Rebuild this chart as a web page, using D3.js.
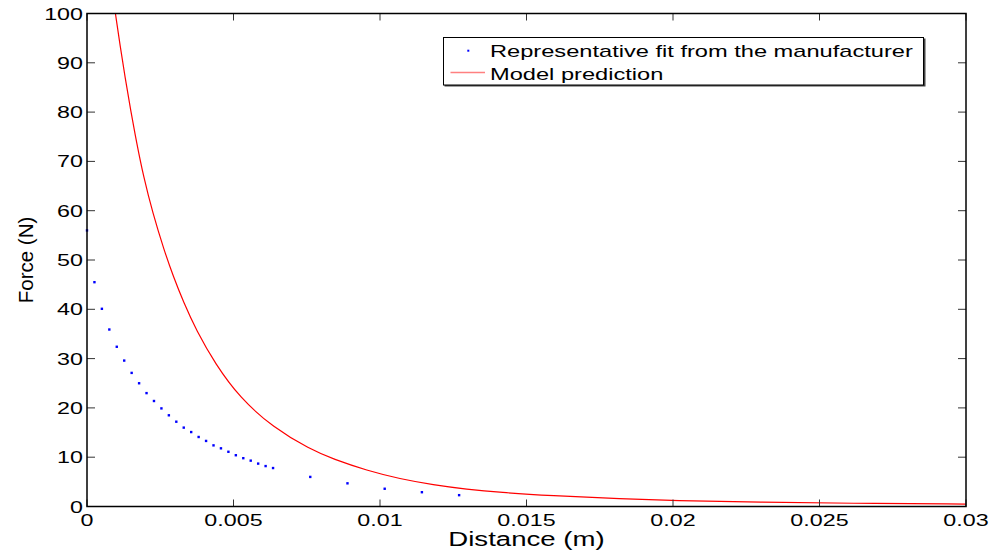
<!DOCTYPE html>
<html>
<head>
<meta charset="utf-8">
<script src="https://cdn.jsdelivr.net/npm/d3@7"></script>
<style>
  body { margin: 0; background: #fff; }
  text { font-family: "Liberation Sans", Arial, sans-serif; fill: #000; }
</style>
</head>
<body>
<div id="chart"></div>
<script>
// manufacturer fit (blue dots), distance in m, force in N
const fitDistance = [0, 0.000254, 0.000508, 0.000762, 0.001016, 0.00127, 0.001524, 0.001778, 0.002032, 0.002286,
  0.00254, 0.002794, 0.003048, 0.003302, 0.003556, 0.00381, 0.004064, 0.004318, 0.004572, 0.004826,
  0.00508, 0.005334, 0.005588, 0.005842, 0.006096, 0.00635, 0.00762, 0.00889, 0.01016, 0.01143, 0.0127];
const fitForce = [56.0, 45.5, 40.1, 35.9, 32.4, 29.6, 27.1, 25.0, 23.0, 21.4,
  19.9, 18.5, 17.2, 16.0, 15.1, 14.1, 13.3, 12.4, 11.8, 11.1,
  10.4, 9.8, 9.3, 8.7, 8.2, 7.8, 6.0, 4.7, 3.6, 2.9, 2.3];

// model prediction (red line)
const modelDistance = [0.00097, 0.00113, 0.0013, 0.00149, 0.0017, 0.00193, 0.00224, 0.00263, 0.00295, 0.00329,
  0.00374, 0.00437, 0.00522, 0.00636, 0.00761, 0.00841, 0.00955, 0.01068, 0.01182, 0.01296,
  0.0141, 0.0158, 0.0183, 0.02, 0.023, 0.026, 0.03];
const modelForce = [100, 93.5, 87.0, 80.4, 73.6, 66.9, 59.6, 52.0, 46.6, 41.5,
  35.6, 29.0, 22.0, 16.0, 11.6, 9.6, 7.3, 5.6, 4.4, 3.5,
  2.85, 2.2, 1.55, 1.2, 0.85, 0.65, 0.5];

const xTicks = [0, 0.005, 0.01, 0.015, 0.02, 0.025, 0.03];
const xTickLabels = ["0", "0.005", "0.01", "0.015", "0.02", "0.025", "0.03"];
const yTicks = [0, 10, 20, 30, 40, 50, 60, 70, 80, 90, 100];
const legendLabels = ["Representative fit from the manufacturer", "Model prediction"];

const W = 992, H = 551;
const margin = {top: 13.5, right: 26, bottom: 44.5, left: 87};
const width = W - margin.left - margin.right;
const height = H - margin.top - margin.bottom;

const svg = d3.select("#chart").append("svg")
  .attr("width", W)
  .attr("height", H);

const chart = svg.append("g")
  .attr("transform", `translate(${margin.left}, ${margin.top})`);

const x = d3.scaleLinear().domain([0, 0.03]).range([0, width]);
const y = d3.scaleLinear().domain([0, 100]).range([height, 0]);

// the picture's text is drawn wide, so stretch it sideways
function wideText(g, tx, ty, str, size, anchor, sx) {
  return g.append("text")
    .attr("transform", `translate(${tx}, ${ty}) scale(${sx || 1.37}, 1)`)
    .attr("text-anchor", anchor)
    .attr("font-size", size)
    .text(str);
}

svg.append("defs").append("clipPath").attr("id", "clip")
  .append("rect").attr("width", width).attr("height", height);

// red model line (basis curve smooths out reading noise)
const line = d3.line()
  .x((d, i) => x(modelDistance[i]))
  .y(d => y(d))
  .curve(d3.curveBasis);

chart.append("path")
  .datum(modelForce)
  .attr("clip-path", "url(#clip)")
  .attr("fill", "none")
  .attr("stroke", "#ff0000")
  .attr("stroke-width", 1.2)
  .attr("d", line);

// blue dots
chart.selectAll("rect.dot")
  .data(fitForce)
  .join("rect")
  .attr("class", "dot")
  .attr("x", (d, i) => x(fitDistance[i]) - 1.2)
  .attr("y", d => y(d) - 1.2)
  .attr("width", 2.4)
  .attr("height", 2.4)
  .attr("fill", "#0000ff");

// ticks on all four sides, pointing in
const tickColor = "#333";
xTicks.forEach(t => {
  chart.append("line").attr("x1", x(t)).attr("x2", x(t)).attr("y1", height).attr("y2", height - 7)
    .attr("stroke", tickColor);
  chart.append("line").attr("x1", x(t)).attr("x2", x(t)).attr("y1", 0).attr("y2", 7)
    .attr("stroke", tickColor);
});
yTicks.forEach(t => {
  chart.append("line").attr("x1", 0).attr("x2", 8).attr("y1", y(t)).attr("y2", y(t))
    .attr("stroke", tickColor);
  chart.append("line").attr("x1", width).attr("x2", width - 8).attr("y1", y(t)).attr("y2", y(t))
    .attr("stroke", tickColor);
});

// box
chart.append("rect")
  .attr("width", width).attr("height", height)
  .attr("fill", "none").attr("stroke", "#000").attr("stroke-width", 1.5);

// tick labels
xTicks.forEach((t, i) => wideText(chart, x(t), height + 19.5, xTickLabels[i], 17, "middle"));
yTicks.forEach(t => wideText(chart, -4, y(t) + 6, String(t), 17, "end"));

// axis titles
wideText(chart, width / 2, height + 39.5, "Distance (m)", 20, "middle", 1.38);
svg.append("text")
  .attr("transform", `translate(33, ${margin.top + height / 2}) rotate(-90)`)
  .attr("text-anchor", "middle")
  .attr("font-size", 20.5)
  .text("Force (N)");

// legend
const legend = svg.append("g").attr("transform", "translate(443.5, 37.5)");
legend.append("rect")
  .attr("x", 1).attr("y", 1).attr("width", 481).attr("height", 48)
  .attr("fill", "#444");
legend.append("rect")
  .attr("width", 480).attr("height", 47.5)
  .attr("fill", "#fff").attr("stroke", "#000").attr("stroke-width", 1);
legend.append("rect")
  .attr("x", 23.8).attr("y", 12.2).attr("width", 2).attr("height", 2)
  .attr("fill", "#0000ff");
legend.append("line")
  .attr("x1", 7).attr("x2", 41.5).attr("y1", 35).attr("y2", 35)
  .attr("stroke", "#ff8080").attr("stroke-width", 1.3);
wideText(legend, 46.5, 19.3, legendLabels[0], 17, "start", 1.39);
wideText(legend, 46.5, 42, legendLabels[1], 17, "start", 1.39);
</script>
</body>
</html>
